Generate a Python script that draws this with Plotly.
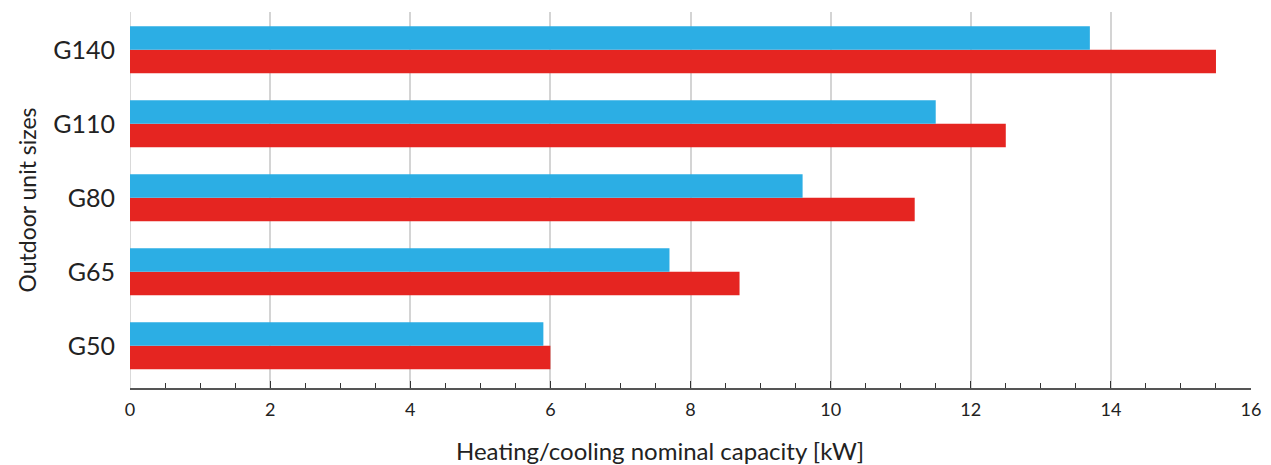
import plotly.graph_objects as go

categories = ["G50", "G65", "G80", "G110", "G140"]
cooling = [5.9, 7.7, 9.6, 11.5, 13.7]
heating = [6.0, 8.7, 11.2, 12.5, 15.5]
x_ticks = [0, 2, 4, 6, 8, 10, 12, 14, 16]

FONT = "Lato"
TEXT = "#222222"

fig = go.Figure()
fig.add_trace(go.Bar(y=categories, x=heating, orientation="h", name="Heating",
                     marker=dict(color="#E52521", line=dict(width=0))))
fig.add_trace(go.Bar(y=categories, x=cooling, orientation="h", name="Cooling",
                     marker=dict(color="#2CAEE4", line=dict(width=0))))

fig.update_layout(
    width=1271, height=465,
    margin=dict(l=122, r=28, t=4, b=85),
    barmode="group", bargap=0.365, bargroupgap=0,
    plot_bgcolor="white", paper_bgcolor="white",
    showlegend=False,
    font=dict(family=FONT, color=TEXT),
    xaxis=dict(
        range=[0, 16], tickvals=x_ticks, ticktext=[str(v) for v in x_ticks],
        showgrid=True, gridcolor="#d4d4d4", gridwidth=1.5,
        zeroline=False, automargin=False,
        showline=True, linecolor="#555555", linewidth=1.5,
        ticks="inside", ticklen=7, tickcolor="#333333", tickwidth=1.2,
        minor=dict(dtick=0.5, ticks="inside", ticklen=5, tickcolor="#333333", tickwidth=1.2, showgrid=False),
        tickfont=dict(size=18, color=TEXT, family=FONT),
        ticklabelstandoff=5,
    ),
    yaxis=dict(
        range=[-0.57, 4.51], automargin=False,
        showgrid=False, zeroline=False, showline=False,
        ticks="", ticklabelstandoff=14,
        tickfont=dict(size=25, color=TEXT, family=FONT),
        title=dict(text="Outdoor unit sizes", font=dict(size=23, color=TEXT, family=FONT), standoff=10),
    ),
    annotations=[dict(
        text="Heating/cooling nominal capacity [kW]", xref="paper", yref="paper",
        x=0.473, y=-0.165, xanchor="center", yanchor="middle", showarrow=False,
        font=dict(size=24, color=TEXT, family=FONT),
    )],
)
fig.add_shape(type="line", xref="x", yref="paper", x0=0, x1=0, y0=0, y1=1,
              line=dict(color="#cccccc", width=1.5), layer="below")

fig.write_html("out.html")
